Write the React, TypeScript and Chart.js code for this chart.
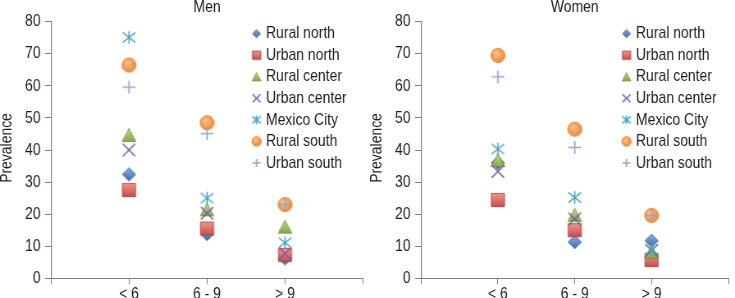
import React, { useEffect, useRef } from 'react';
import { Chart, registerables } from 'chart.js';

Chart.register(...registerables);

// ---------- data ----------
const categories = ['< 6', '6 - 9', '> 9'];
const seriesNames = ['Rural north', 'Urban north', 'Rural center', 'Urban center', 'Mexico City', 'Rural south', 'Urban south'];
const yTicks = [0, 10, 20, 30, 40, 50, 60, 70, 80];

const menRuralNorth = [32.4, 13.8, 6.2];
const menUrbanNorth = [27.5, 15.5, 7.3];
const menRuralCenter = [44.7, 21.5, 16.1];
const menUrbanCenter = [40.0, 20.3, 7.7];
const menMexicoCity = [75.1, 25.0, 11.1];
const menRuralSouth = [66.5, 48.5, 23.0];
const menUrbanSouth = [59.6, 45.1, 23.0];

const womenRuralNorth = [36.0, 11.3, 11.7];
const womenUrbanNorth = [24.4, 15.0, 5.7];
const womenRuralCenter = [36.9, 19.8, 8.3];
const womenUrbanCenter = [33.3, 18.5, 8.7];
const womenMexicoCity = [40.3, 25.2, 9.0];
const womenRuralSouth = [69.5, 46.5, 19.6];
const womenUrbanSouth = [62.8, 40.8, 19.6];

const menSeries = [menRuralNorth, menUrbanNorth, menRuralCenter, menUrbanCenter, menMexicoCity, menRuralSouth, menUrbanSouth];
const womenSeries = [womenRuralNorth, womenUrbanNorth, womenRuralCenter, womenUrbanCenter, womenMexicoCity, womenRuralSouth, womenUrbanSouth];

// ---------- style ----------
const FONT = "'Liberation Sans', Arial, sans-serif";
const textColor = '#1c1c1c';
const axisColor = '#808080';
const CONDENSE = 0.82; // horizontal condensation (narrow typeface look)
const CANVAS_H = 320;
const PLOT_TOP = 21.7;
const PLOT_BOTTOM = 278.3;
const Y_AXIS_W = 51; // display px
const LEG_TEXT_X = 266; // display px
const LEG_TOP = 20.6;
const LEG_PAD = 4.55;
const LEG_BOX_W = 6.2;
const Y_TITLE_X = 7; // display px

type Kind = 'diamond' | 'square' | 'triangle' | 'x' | 'asterisk' | 'circle' | 'plus';
const markerKinds: Kind[] = ['diamond', 'square', 'triangle', 'x', 'asterisk', 'circle', 'plus'];
const PLOT_HALF: Record<Kind, number> = { diamond: 6.6, square: 6.6, triangle: 6.8, x: 6.2, asterisk: 6.3, circle: 7.1, plus: 6.4 };
const LEGEND_HALF: Record<Kind, number> = { diamond: 4, square: 4.2, triangle: 4.4, x: 4, asterisk: 4.2, circle: 4.8, plus: 4 };

function makeMarker(kind: Kind, h: number, sx: number): HTMLCanvasElement {
  const size = Math.ceil(h * 2 + 4);
  const wInt = Math.ceil(size / sx);
  const c = document.createElement('canvas');
  c.width = wInt;
  c.height = size;
  const ctx = c.getContext('2d')!;
  ctx.setTransform(1 / sx, 0, 0, 1, 0, 0);
  const cx = (wInt * sx) / 2;
  const cy = size / 2;
  const lin = (a: string, b: string) => {
    const g = ctx.createLinearGradient(cx, cy - h, cx, cy + h);
    g.addColorStop(0, a);
    g.addColorStop(1, b);
    return g;
  };
  ctx.lineJoin = 'miter';
  switch (kind) {
    case 'diamond':
      ctx.beginPath();
      ctx.moveTo(cx, cy - h);
      ctx.lineTo(cx + h, cy);
      ctx.lineTo(cx, cy + h);
      ctx.lineTo(cx - h, cy);
      ctx.closePath();
      ctx.fillStyle = lin('#8aafe0', '#3d6cb0');
      ctx.fill();
      ctx.strokeStyle = '#3b64a0';
      ctx.lineWidth = 0.8;
      ctx.stroke();
      break;
    case 'square':
      ctx.beginPath();
      ctx.rect(cx - h, cy - h, 2 * h, 2 * h);
      ctx.fillStyle = lin('#ee9592', '#c54f4b');
      ctx.fill();
      ctx.strokeStyle = '#b2423f';
      ctx.lineWidth = 0.8;
      ctx.stroke();
      break;
    case 'triangle': {
      const th = h * 0.95;
      ctx.beginPath();
      ctx.moveTo(cx, cy - th);
      ctx.lineTo(cx + h, cy + th);
      ctx.lineTo(cx - h, cy + th);
      ctx.closePath();
      ctx.fillStyle = lin('#c0d98f', '#86a844');
      ctx.fill();
      ctx.strokeStyle = '#75953a';
      ctx.lineWidth = 0.8;
      ctx.stroke();
      break;
    }
    case 'circle': {
      const g = ctx.createRadialGradient(cx - h * 0.3, cy - h * 0.4, 0, cx, cy, h * 1.2);
      g.addColorStop(0, '#fcc597');
      g.addColorStop(1, '#ef812c');
      ctx.beginPath();
      ctx.arc(cx, cy, h, 0, Math.PI * 2);
      ctx.fillStyle = g;
      ctx.fill();
      ctx.strokeStyle = '#e8893a';
      ctx.lineWidth = 0.8;
      ctx.stroke();
      break;
    }
    case 'x':
      ctx.beginPath();
      ctx.moveTo(cx - h, cy - h);
      ctx.lineTo(cx + h, cy + h);
      ctx.moveTo(cx + h, cy - h);
      ctx.lineTo(cx - h, cy + h);
      ctx.strokeStyle = '#7c60a6';
      ctx.lineWidth = 1.4;
      ctx.stroke();
      break;
    case 'asterisk':
      ctx.beginPath();
      ctx.moveTo(cx - h, cy - h * 0.8);
      ctx.lineTo(cx + h, cy + h * 0.8);
      ctx.moveTo(cx + h, cy - h * 0.8);
      ctx.lineTo(cx - h, cy + h * 0.8);
      ctx.moveTo(cx, cy - h);
      ctx.lineTo(cx, cy + h);
      ctx.strokeStyle = '#45a5c0';
      ctx.lineWidth = 1.4;
      ctx.stroke();
      break;
    case 'plus':
      ctx.beginPath();
      ctx.moveTo(cx - h, cy);
      ctx.lineTo(cx + h, cy);
      ctx.moveTo(cx, cy - h);
      ctx.lineTo(cx, cy + h);
      ctx.strokeStyle = '#94a8c8';
      ctx.lineWidth = 1.5;
      ctx.stroke();
      break;
  }
  return c;
}

type PanelProps = { title: string; series: number[][]; left: number; width: number; padRight: number };

function Panel({ title, series, left, width, padRight }: PanelProps) {
  const ref = useRef<HTMLCanvasElement>(null);
  const wInt = Math.round(width / CONDENSE);
  const sx = width / wInt;
  useEffect(() => {
    const canvas = ref.current;
    if (!canvas) return;
    const plotMarkers = markerKinds.map((k) => makeMarker(k, PLOT_HALF[k], sx));
    const legendMarkers = markerKinds.map((k) => makeMarker(k, LEGEND_HALF[k], sx));
    const font = { family: FONT, size: 17 };
    const legLeft = LEG_TEXT_X / sx - LEG_BOX_W - 8.5 - LEG_PAD;

    const layoutFixer = {
      id: 'layoutFixer',
      beforeDraw(chart: any) {
        const lg = chart.legend;
        if (!lg) return;
        lg.left = legLeft;
        lg.top = LEG_TOP;
        lg.width = 160;
        lg.height = 220;
        lg.right = legLeft + 160;
        lg.bottom = LEG_TOP + 220;
      },
      afterDraw(chart: any) {
        const ctx = chart.ctx;
        const area = chart.chartArea;
        ctx.save();
        ctx.translate(Y_TITLE_X / sx, (area.top + area.bottom) / 2 - 2);
        ctx.scale(1 / sx, 1);
        ctx.rotate(-Math.PI / 2);
        ctx.scale(CONDENSE, 1);
        ctx.font = `17px ${FONT}`;
        ctx.fillStyle = textColor;
        ctx.textAlign = 'center';
        ctx.textBaseline = 'middle';
        ctx.fillText('Prevalence', 0, 0);
        ctx.restore();
      },
    };

    const chart = new Chart(canvas, {
      type: 'scatter',
      data: {
        datasets: seriesNames.map((name, i) => ({
          label: name,
          data: series[i].map((v, j) => ({ x: j + 1, y: v })),
          pointStyle: plotMarkers[i] as any,
          pointRadius: 7,
          pointHoverRadius: 7,
          showLine: false,
          order: seriesNames.length - i,
          xAxisID: 'x',
          yAxisID: 'y',
        })),
      },
      options: {
        animation: false,
        responsive: false,
        maintainAspectRatio: false,
        devicePixelRatio: 1,
        events: [],
        layout: { padding: { left: 0, right: padRight / sx, top: 0, bottom: 0 } },
        scales: {
          x: {
            type: 'linear',
            axis: 'x',
            position: 'bottom',
            min: 0,
            max: 4,
            afterBuildTicks: (s: any) => {
              s.ticks = [0, 1, 2, 3, 4].map((value) => ({ value }));
            },
            ticks: {
              callback: (v: any) => categories[Number(v) - 1] ?? '',
              font: { ...font, lineHeight: 1.0 },
              color: textColor,
              padding: 1.5,
              maxRotation: 0,
              autoSkip: false,
            },
            grid: { display: true, drawOnChartArea: false, drawTicks: true, tickLength: 6, color: axisColor, lineWidth: 1 },
            border: { display: true, color: axisColor, width: 1 },
            afterFit: (s: any) => {
              s.height = CANVAS_H - PLOT_BOTTOM;
            },
          },
          xTitle: {
            type: 'linear',
            axis: 'x',
            position: 'top',
            display: true,
            min: 0,
            max: 4,
            ticks: { display: false },
            grid: { display: false, drawTicks: false },
            border: { display: false },
            title: { display: true, text: title, font: { ...font, lineHeight: 0.9 }, color: textColor, padding: 0 },
            afterFit: (s: any) => {
              s.height = PLOT_TOP;
            },
          },
          y: {
            type: 'linear',
            position: 'left',
            min: 0,
            max: 80,
            afterBuildTicks: (s: any) => {
              s.ticks = yTicks.map((value) => ({ value }));
            },
            ticks: { font, color: textColor, padding: 5.5 },
            grid: { display: true, drawOnChartArea: false, drawTicks: true, tickLength: 6 / sx, color: axisColor, lineWidth: 1 },
            border: { display: true, color: axisColor, width: 1.2 },
            title: { display: false },
            afterFit: (s: any) => {
              s.width = Y_AXIS_W / sx;
            },
          },
        } as any,
        plugins: {
          title: { display: false },
          tooltip: { enabled: false },
          legend: {
            display: true,
            position: 'chartArea' as any,
            align: 'start',
            labels: {
              usePointStyle: true,
              pointStyleWidth: LEG_BOX_W,
              font,
              color: textColor,
              padding: LEG_PAD,
              generateLabels: (ch: any) =>
                ch.data.datasets.map((ds: any, i: number) => ({
                  text: ds.label,
                  pointStyle: legendMarkers[i],
                  datasetIndex: i,
                  hidden: false,
                  fillStyle: 'rgba(0,0,0,0)',
                  strokeStyle: 'rgba(0,0,0,0)',
                  lineWidth: 0,
                  fontColor: textColor,
                })),
            },
          },
        },
      },
      plugins: [layoutFixer],
    } as any);
    return () => chart.destroy();
  }, [title, series, padRight, sx]);
  return (
    <canvas
      ref={ref}
      width={wInt}
      height={CANVAS_H}
      style={{ position: 'absolute', left, top: 0, width, height: CANVAS_H, display: 'block' }}
    />
  );
}

export default function App() {
  return (
    <div style={{ position: 'fixed', left: 0, top: 0, width: 735, height: 298, overflow: 'hidden', background: '#ffffff' }}>
      <Panel title="Men" series={menSeries} left={0} width={370} padRight={7} />
      <Panel title="Women" series={womenSeries} left={370} width={365} padRight={2.3} />
    </div>
  );
}
